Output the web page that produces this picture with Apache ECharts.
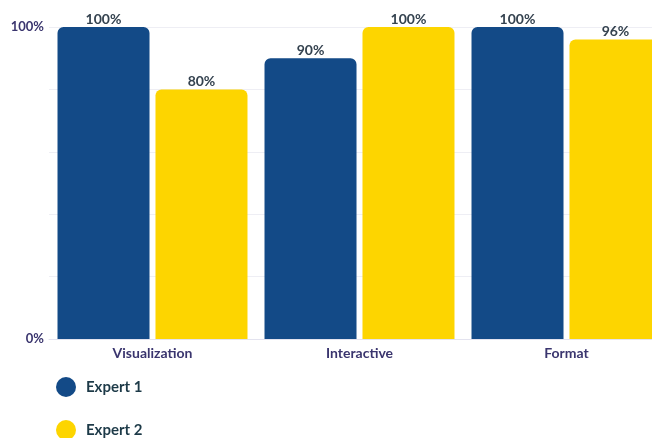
<!DOCTYPE html>
<html>
<head>
<meta charset="utf-8">
<script src="https://cdn.jsdelivr.net/npm/echarts@6/dist/echarts.min.js"></script>
<style>
  html, body { margin: 0; padding: 0; background: #ffffff; }
  #chart { width: 652px; height: 438px; }
</style>
</head>
<body>
<div id="chart"></div>
<script>
// Share of criteria met per expert, by category
const categories = ['Visualization', 'Interactive', 'Format'];
const expert1 = [100, 90, 100];
const expert2 = [80, 100, 96];
const yTickLabels = { 0: '0%', 100: '100%' };
const seriesNames = ['Expert 1', 'Expert 2'];

const chart = echarts.init(document.getElementById('chart'));

const labelStyle = {
  show: true,
  position: 'top',
  distance: 1,
  formatter: p => p.value + '%',
  color: '#34424f',
  fontFamily: 'Lato',
  fontSize: 14,
  fontWeight: 'bold'
};

// one legend block per entry so the list can run past the bottom edge
const legendBlock = (name, top) => ({
  orient: 'vertical',
  left: 56,
  top: top,
  padding: 0,
  data: [name],
  icon: 'circle',
  itemWidth: 20,
  itemHeight: 20,
  textStyle: {
    color: '#1d3a48',
    fontSize: 15,
    fontWeight: 'bold',
    fontFamily: 'Lato',
    padding: [0, 0, 0, 5]
  }
});

chart.setOption({
  animation: false,
  textStyle: { fontFamily: 'Lato' },
  grid: { left: 49, top: 27, width: 621, height: 312, outerBoundsMode: 'none', containLabel: false },
  legend: [legendBlock(seriesNames[0], 377), legendBlock(seriesNames[1], 420)],
  xAxis: {
    type: 'category',
    data: categories,
    axisLine: { lineStyle: { color: '#e3e3ef', width: 1 } },
    axisTick: { show: false },
    axisLabel: { color: '#3a356e', fontSize: 14, fontWeight: 'bold', margin: 7 }
  },
  yAxis: {
    type: 'value',
    min: 0,
    max: 100,
    interval: 20,
    axisLine: { show: false },
    axisTick: { show: false },
    splitLine: { lineStyle: { color: '#eeeef4', width: 1 } },
    axisLabel: {
      color: '#3a356e',
      fontSize: 13,
      fontWeight: 'bold',
      margin: 5,
      formatter: v => yTickLabels[v] || ''
    }
  },
  series: [
    {
      name: seriesNames[0],
      type: 'bar',
      data: expert1,
      barWidth: 92,
      barGap: '6.5%',
      itemStyle: { color: '#134a87', borderRadius: [6, 6, 0, 0] },
      label: labelStyle
    },
    {
      name: seriesNames[1],
      type: 'bar',
      data: expert2,
      barWidth: 92,
      itemStyle: { color: '#fdd500', borderRadius: [6, 6, 0, 0] },
      label: labelStyle
    }
  ]
});
</script>
</body>
</html>
